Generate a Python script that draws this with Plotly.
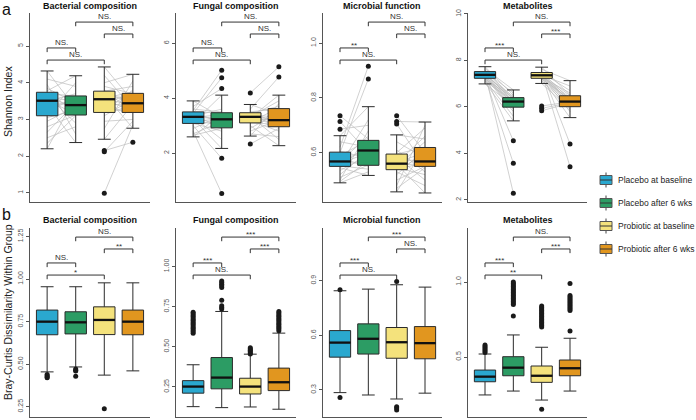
import plotly.graph_objects as go

W, H = 696, 420

GROUPS = ["Placebo at baseline", "Placebo after 6 wks", "Probiotic at baseline", "Probiotic after 6 wks"]
COLORS = ["#2AA8CF", "#2C9C64", "#F4E27C", "#E1961F"]
PANELS = ["Bacterial composition", "Fungal composition", "Microbial function", "Metabolites"]
PAIRS = [(1, 2), (1, 3), (2, 4), (3, 4)]

# ---------------- Row a : Shannon index (paired subjects) ----------------
# box stats per group: [lower whisker, q1, median, q3, upper whisker]
a_bact_box = [[2.20, 3.10, 3.51, 3.74, 4.32], [2.37, 3.12, 3.39, 3.64, 4.19],
              [2.46, 3.19, 3.55, 3.77, 4.43], [2.76, 3.19, 3.44, 3.71, 4.23]]
a_fung_box = [[2.59, 3.08, 3.32, 3.50, 3.90], [2.17, 2.92, 3.23, 3.47, 4.11],
              [2.62, 3.10, 3.32, 3.47, 3.77], [2.27, 2.96, 3.20, 3.62, 4.11]]
a_micr_box = [[0.490, 0.550, 0.568, 0.602, 0.662], [0.517, 0.554, 0.608, 0.645, 0.768],
              [0.457, 0.538, 0.560, 0.595, 0.665], [0.453, 0.550, 0.568, 0.619, 0.712]]
a_meta_box = [[6.99, 7.23, 7.38, 7.52, 7.73], [5.40, 5.99, 6.23, 6.40, 6.73],
              [7.01, 7.23, 7.36, 7.48, 7.71], [5.54, 6.01, 6.23, 6.48, 7.13]]

# paired subject values (placebo baseline/after, probiotic baseline/after)
a_bact_pb = [4.32, 4.1, 3.95, 3.85, 3.78, 3.74, 3.7, 3.65, 3.6, 3.55, 3.52, 3.5, 3.45, 3.4, 3.3, 3.2, 3.12, 3.05, 2.95, 2.8, 2.65, 2.5, 2.35, 2.2]
a_bact_pa = [3.3, 3.9, 2.6, 3.45, 4.19, 3.2, 3.64, 2.9, 3.5, 3.38, 3.15, 3.7, 3.4, 2.37, 3.55, 3.6, 4.0, 3.25, 3.35, 3.12, 3.45, 2.8, 3.1, 3.62]
a_bact_rb = [4.43, 4.2, 4.0, 3.9, 3.8, 3.77, 3.72, 3.68, 3.62, 3.58, 3.55, 3.52, 3.45, 3.38, 3.3, 3.22, 3.19, 3.1, 2.95, 2.75, 2.46, 2.15, 2.12, 0.99]
a_bact_ra = [3.5, 3.3, 4.23, 3.7, 3.2, 3.9, 3.45, 2.76, 3.6, 3.75, 3.4, 3.25, 3.71, 3.44, 3.19, 3.8, 3.35, 3.55, 3.0, 4.05, 3.42, 2.38, 2.95, 2.85]

a_fung_pb = [3.9, 3.7, 3.6, 3.55, 3.5, 3.48, 3.45, 3.4, 3.38, 3.35, 3.33, 3.31, 3.3, 3.25, 3.2, 3.15, 3.1, 3.08, 3.0, 2.9, 2.8, 2.7, 2.65, 2.59]
a_fung_pa = [3.3, 4.35, 3.5, 5.02, 3.47, 3.1, 4.74, 3.2, 2.92, 3.6, 3.23, 2.5, 3.4, 2.17, 3.0, 3.25, 4.11, 2.8, 1.81, 3.35, 0.53, 3.15, 2.9, 3.45]
a_fung_rb = [4.19, 3.77, 3.6, 3.5, 3.47, 3.45, 3.42, 3.4, 3.36, 3.34, 3.32, 3.31, 3.3, 3.28, 3.22, 3.18, 3.12, 3.1, 3.0, 2.9, 2.8, 2.7, 2.62, 2.33]
a_fung_ra = [5.14, 3.4, 4.77, 3.62, 3.1, 3.7, 2.96, 3.3, 3.2, 2.5, 3.9, 3.15, 3.0, 4.11, 3.25, 2.8, 3.65, 3.05, 2.27, 3.5, 3.2, 2.6, 3.8, 2.9]

a_micr_pb = [0.735, 0.714, 0.686, 0.662, 0.64, 0.62, 0.605, 0.6, 0.59, 0.58, 0.572, 0.568, 0.565, 0.56, 0.555, 0.552, 0.55, 0.545, 0.535, 0.52, 0.51, 0.5, 0.495, 0.49]
a_micr_pa = [0.65, 0.6, 0.7, 0.768, 0.62, 0.916, 0.58, 0.869, 0.645, 0.55, 0.61, 0.66, 0.56, 0.6, 0.72, 0.54, 0.63, 0.517, 0.59, 0.605, 0.555, 0.68, 0.57, 0.53]
a_micr_rb = [0.735, 0.714, 0.705, 0.665, 0.64, 0.61, 0.6, 0.595, 0.585, 0.575, 0.565, 0.562, 0.558, 0.555, 0.55, 0.545, 0.54, 0.538, 0.53, 0.52, 0.5, 0.48, 0.47, 0.457]
a_micr_ra = [0.6, 0.712, 0.55, 0.65, 0.58, 0.53, 0.69, 0.62, 0.5, 0.57, 0.6, 0.66, 0.453, 0.56, 0.64, 0.52, 0.59, 0.565, 0.48, 0.61, 0.55, 0.7, 0.545, 0.62]

a_meta_pb = [7.73, 7.65, 7.6, 7.55, 7.52, 7.5, 7.47, 7.44, 7.42, 7.4, 7.39, 7.38, 7.37, 7.35, 7.32, 7.3, 7.27, 7.24, 7.23, 7.2, 7.15, 7.1, 7.05, 6.99]
a_meta_pa = [6.5, 6.73, 6.3, 6.4, 6.6, 6.2, 2.29, 6.25, 6.1, 4.54, 6.35, 6.0, 6.45, 5.9, 6.22, 5.8, 3.58, 6.15, 5.99, 6.4, 5.6, 6.28, 5.4, 6.05]
a_meta_rb = [7.71, 7.62, 7.56, 7.5, 7.48, 7.46, 7.44, 7.41, 7.39, 7.37, 7.36, 7.35, 7.34, 7.32, 7.3, 7.27, 7.25, 7.23, 7.2, 7.12, 7.01, 6.04, 5.94, 5.84]
a_meta_ra = [6.5, 7.13, 4.41, 6.3, 6.7, 3.43, 6.2, 6.48, 6.1, 6.9, 6.25, 6.0, 6.4, 5.8, 6.23, 6.6, 6.05, 5.54, 6.35, 6.01, 5.9, 6.22, 6.18, 6.15]

a_sig = [["NS.", "NS.", "NS.", "NS."], ["NS.", "NS.", "NS.", "NS."],
         ["**", "NS.", "NS.", "NS."], ["***", "NS.", "NS.", "***"]]
a_ticks = [[1, 2, 3, 4, 5], [2, 4, 6], [0.6, 0.8, 1.0], [2, 4, 6, 8, 10]]
a_ticktext = [["1", "2", "3", "4", "5"], ["2", "4", "6"], ["0.6", "0.8", "1.0"], ["2", "4", "6", "8", "10"]]
a_ranges = [[0.75, 5.9], [0.22, 7.1], [0.42, 1.11], [1.91, 10.04]]

# ---------------- Row b : Bray-Curtis dissimilarity ----------------
b_bact_box = [[0.455, 0.673, 0.750, 0.818, 0.955], [0.484, 0.678, 0.746, 0.808, 0.955],
              [0.436, 0.674, 0.760, 0.837, 0.978], [0.461, 0.673, 0.750, 0.818, 0.978]]
b_fung_box = [[0.127, 0.211, 0.252, 0.289, 0.388], [0.121, 0.238, 0.308, 0.433, 0.720],
              [0.125, 0.206, 0.252, 0.304, 0.454], [0.111, 0.227, 0.279, 0.367, 0.585]]
b_micr_box = [[0.285, 0.480, 0.560, 0.626, 0.845], [0.272, 0.497, 0.581, 0.663, 0.854],
              [0.250, 0.474, 0.562, 0.643, 0.878], [0.282, 0.471, 0.557, 0.648, 0.865]]
b_meta_box = [[0.247, 0.335, 0.369, 0.413, 0.520], [0.273, 0.375, 0.429, 0.502, 0.647],
              [0.213, 0.331, 0.375, 0.440, 0.565], [0.273, 0.375, 0.425, 0.480, 0.625]]

b_bact_out = [[0.44, 0.432, 0.425, 0.42], [0.472, 0.465, 0.46, 0.43], [0.238], []]
b_fung_out = [[0.585, 0.595, 0.605, 0.615, 0.625, 0.635, 0.645, 0.655, 0.665, 0.675, 0.685, 0.695, 0.705, 0.715],
              [0.735, 0.745, 0.755, 0.79, 0.87, 0.88, 0.89, 0.90, 0.91],
              [0.455, 0.462, 0.47, 0.478, 0.486, 0.494],
              [0.60, 0.61, 0.62, 0.63, 0.64, 0.65, 0.66, 0.67, 0.68, 0.69, 0.70, 0.71, 0.72]]
b_micr_out = [[0.85, 0.258], [], [0.896, 0.208, 0.2, 0.19], []]
b_meta_out = [[0.53, 0.54, 0.55, 0.56, 0.57, 0.58],
              [0.773, 0.85, 0.86, 0.87, 0.88, 0.89, 0.90, 0.91, 0.92, 0.93, 0.94, 0.95, 0.96, 0.97, 0.98, 0.99, 1.0],
              [0.151, 0.70, 0.71, 0.72, 0.73, 0.74, 0.75, 0.76, 0.77, 0.78, 0.79, 0.80, 0.81, 0.82, 0.83, 0.84],
              [0.673, 0.81, 0.82, 0.83, 0.84, 0.85, 0.86, 0.87, 0.88, 0.89, 0.90, 0.91, 0.99]]

b_sig = [["NS.", "*", "NS.", "**"], ["***", "NS.", "***", "***"],
         ["***", "NS.", "***", "NS."], ["***", "**", "NS.", "***"]]
b_ticks = [[0.25, 0.5, 0.75, 1.0, 1.25], [0.25, 0.5, 0.75, 1.0], [0.3, 0.6, 0.9], [0.5, 1.0]]
b_ticktext = [["0.25", "0.50", "0.75", "1.00", "1.25"], ["0.25", "0.50", "0.75", "1.00"],
              ["0.3", "0.6", "0.9"], ["0.5", "1.0"]]
b_ranges = [[0.19, 1.30], [0.0625, 1.24], [0.151, 1.19], [0.10, 1.36]]

# ---------------- layout constants (pixels) ----------------
FONT = "Liberation Sans, Arial, sans-serif"
XDOM = [(30, 150), (176, 296), (323, 442), (468, 587)]
YDOM_A = (13, 202)
YDOM_B = (228, 417)
BOX_W = 0.75
AXC = "#555555"
BR_LEVEL = {(2, 4): 0.952, (3, 4): 0.889, (1, 2): 0.815, (1, 3): 0.751}
BR_DROP = 0.022


def px(xp):
    return xp / W


def py(yp):
    return 1 - yp / H


def aref(n, ax):
    return ax if n == 1 else f"{ax}{n}"


def akey(n, ax):
    return f"{ax}axis" if n == 1 else f"{ax}axis{n}"


fig = go.Figure()
layout = dict(template="none", width=W, height=H, margin=dict(l=0, r=0, t=0, b=0, pad=0),
              paper_bgcolor="white", plot_bgcolor="white", showlegend=False,
              font=dict(family=FONT, color="#222"), shapes=[], annotations=[])


def yaxis_style(rng, ticks, ticktext, ydom):
    return dict(domain=[py(ydom[1]), py(ydom[0])], range=rng, showline=True, linecolor=AXC,
                linewidth=1, ticks="outside", ticklen=3, tickcolor=AXC, tickwidth=1,
                tickvals=ticks, ticktext=ticktext, tickangle=-90, automargin=False,
                tickfont=dict(size=7, color="#555555", family=FONT),
                showgrid=False, zeroline=False, fixedrange=True)


def xaxis_style(p, yanchor):
    return dict(domain=[px(XDOM[p][0]), px(XDOM[p][1])], range=[0.4, 4.6], showline=True,
                linecolor=AXC, linewidth=1, ticks="", showticklabels=False, showgrid=False,
                zeroline=False, anchor=yanchor, fixedrange=True, automargin=False)


def add_boxes(stats, outliers, xr, yr):
    for g in range(4):
        lo, q1, med, q3, hi = stats[g]
        fig.add_trace(go.Box(x=[g + 1], q1=[q1], median=[med], q3=[q3], lowerfence=[lo],
                             upperfence=[hi], width=BOX_W, whiskerwidth=0.6,
                             fillcolor=COLORS[g], line=dict(color="#2b2b2b", width=1),
                             boxpoints=False, xaxis=xr, yaxis=yr, hoverinfo="skip"))
        fig.add_trace(go.Scatter(x=[g + 1 - BOX_W / 2, g + 1 + BOX_W / 2], y=[med, med],
                                 mode="lines", line=dict(color="#111", width=2.3),
                                 xaxis=xr, yaxis=yr, hoverinfo="skip"))
        if outliers[g]:
            fig.add_trace(go.Scatter(x=[g + 1] * len(outliers[g]), y=outliers[g], mode="markers",
                                     marker=dict(color="#1a1a1a", size=5), xaxis=xr, yaxis=yr,
                                     hoverinfo="skip"))


def add_brackets(sig, xr, yr):
    for (a, b), lab in zip(PAIRS, sig):
        lv = BR_LEVEL[(a, b)]
        layout["shapes"].append(dict(type="path", xref=xr, yref=f"{yr} domain",
                                     path=f"M {a},{lv - BR_DROP} L {a},{lv} L {b},{lv} L {b},{lv - BR_DROP}",
                                     line=dict(color="#333", width=1)))
        star = "*" in lab
        layout["annotations"].append(dict(x=(a + b) / 2, y=lv, xref=xr, yref=f"{yr} domain",
                                          text=lab, showarrow=False, xanchor="center",
                                          yanchor="bottom", yshift=-4 if star else -1,
                                          font=dict(size=8, color="#333", family=FONT)))


a_pairs = [(a_bact_pb, a_bact_pa, a_bact_rb, a_bact_ra), (a_fung_pb, a_fung_pa, a_fung_rb, a_fung_ra),
           (a_micr_pb, a_micr_pa, a_micr_rb, a_micr_ra), (a_meta_pb, a_meta_pa, a_meta_rb, a_meta_ra)]
a_boxes = [a_bact_box, a_fung_box, a_micr_box, a_meta_box]
b_boxes = [b_bact_box, b_fung_box, b_micr_box, b_meta_box]
b_outs = [b_bact_out, b_fung_out, b_micr_out, b_meta_out]

for p in range(4):
    # ---- row a ----
    n = p + 1          # base axes (lines)
    no = p + 9         # overlay y axis (boxes)
    xr, yr, yro = aref(n, "x"), aref(n, "y"), aref(no, "y")
    layout[akey(n, "x")] = xaxis_style(p, yr)
    layout[akey(n, "y")] = yaxis_style(a_ranges[p], a_ticks[p], a_ticktext[p], YDOM_A)
    layout[akey(n, "y")]["anchor"] = xr
    layout[akey(no, "y")] = dict(overlaying=yr, range=a_ranges[p], visible=False, anchor=xr,
                                 fixedrange=True, automargin=False)
    vals = a_pairs[p]
    xs, ys = [], []
    for g0, g1 in [(0, 1), (2, 3)]:
        for v0, v1 in zip(vals[g0], vals[g1]):
            xs += [g0 + 1, g1 + 1, None]
            ys += [v0, v1, None]
    fig.add_trace(go.Scatter(x=xs, y=ys, mode="lines", line=dict(color="#BDBDBD", width=0.7),
                             xaxis=xr, yaxis=yr, hoverinfo="skip"))
    outs = []
    for g in range(4):
        lo, hi = a_boxes[p][g][0], a_boxes[p][g][4]
        outs.append([v for v in vals[g] if v < lo or v > hi])
    add_boxes(a_boxes[p], outs, xr, yro)
    add_brackets(a_sig[p], xr, yr)
    layout["annotations"].append(dict(x=px((XDOM[p][0] + XDOM[p][1]) / 2), y=py(6), xref="paper",
                                      yref="paper", text=f"<b>{PANELS[p]}</b>", showarrow=False,
                                      xanchor="center", yanchor="middle",
                                      font=dict(size=9, color="#111", family=FONT)))

    # ---- row b ----
    n = p + 5
    xr, yr = aref(n, "x"), aref(n, "y")
    layout[akey(n, "x")] = xaxis_style(p, yr)
    layout[akey(n, "y")] = yaxis_style(b_ranges[p], b_ticks[p], b_ticktext[p], YDOM_B)
    layout[akey(n, "y")]["anchor"] = xr
    add_boxes(b_boxes[p], b_outs[p], xr, yr)
    add_brackets(b_sig[p], xr, yr)
    layout["annotations"].append(dict(x=px((XDOM[p][0] + XDOM[p][1]) / 2), y=py(220), xref="paper",
                                      yref="paper", text=f"<b>{PANELS[p]}</b>", showarrow=False,
                                      xanchor="center", yanchor="middle",
                                      font=dict(size=9, color="#111", family=FONT)))

# panel letters and y titles
layout["annotations"] += [
    dict(x=px(0), y=py(9), xref="paper", yref="paper", text="a", showarrow=False, xanchor="left",
         yanchor="middle", font=dict(size=16, color="#111", family=FONT)),
    dict(x=px(0), y=py(215), xref="paper", yref="paper", text="b", showarrow=False, xanchor="left",
         yanchor="middle", font=dict(size=16, color="#111", family=FONT)),
    dict(x=px(8), y=py(102), xref="paper", yref="paper", text="Shannon Index", showarrow=False,
         textangle=-90, xanchor="center", yanchor="middle",
         font=dict(size=10.5, color="#222", family=FONT)),
    dict(x=px(8), y=py(312), xref="paper", yref="paper", text="Bray-Curtis Dissimilarity Within Group",
         showarrow=False, textangle=-90, xanchor="center", yanchor="middle",
         font=dict(size=10.5, color="#222", family=FONT)),
]

# custom legend
LEG_Y = [180, 203, 226, 249]
for g in range(4):
    yc = LEG_Y[g]
    layout["shapes"].append(dict(type="line", xref="paper", yref="paper", x0=px(606), x1=px(606),
                                 y0=py(yc - 7.5), y1=py(yc + 7.5), line=dict(color="#444", width=1)))
    layout["shapes"].append(dict(type="rect", xref="paper", yref="paper", x0=px(600), x1=px(612),
                                 y0=py(yc - 4.5), y1=py(yc + 4.5), fillcolor=COLORS[g],
                                 line=dict(color="#555", width=1)))
    layout["shapes"].append(dict(type="line", xref="paper", yref="paper", x0=px(600), x1=px(612),
                                 y0=py(yc), y1=py(yc), line=dict(color="#333", width=1)))
    layout["annotations"].append(dict(x=px(616), y=py(yc), xref="paper", yref="paper",
                                      text=GROUPS[g], showarrow=False, xanchor="left",
                                      yanchor="middle",
                                      font=dict(size=8.5, color="#222", family=FONT)))

fig.update_layout(**layout)
fig.write_html("out.html", config={"displayModeBar": False},
               post_script="document.body.style.margin='0px';document.body.style.overflow='hidden';")
